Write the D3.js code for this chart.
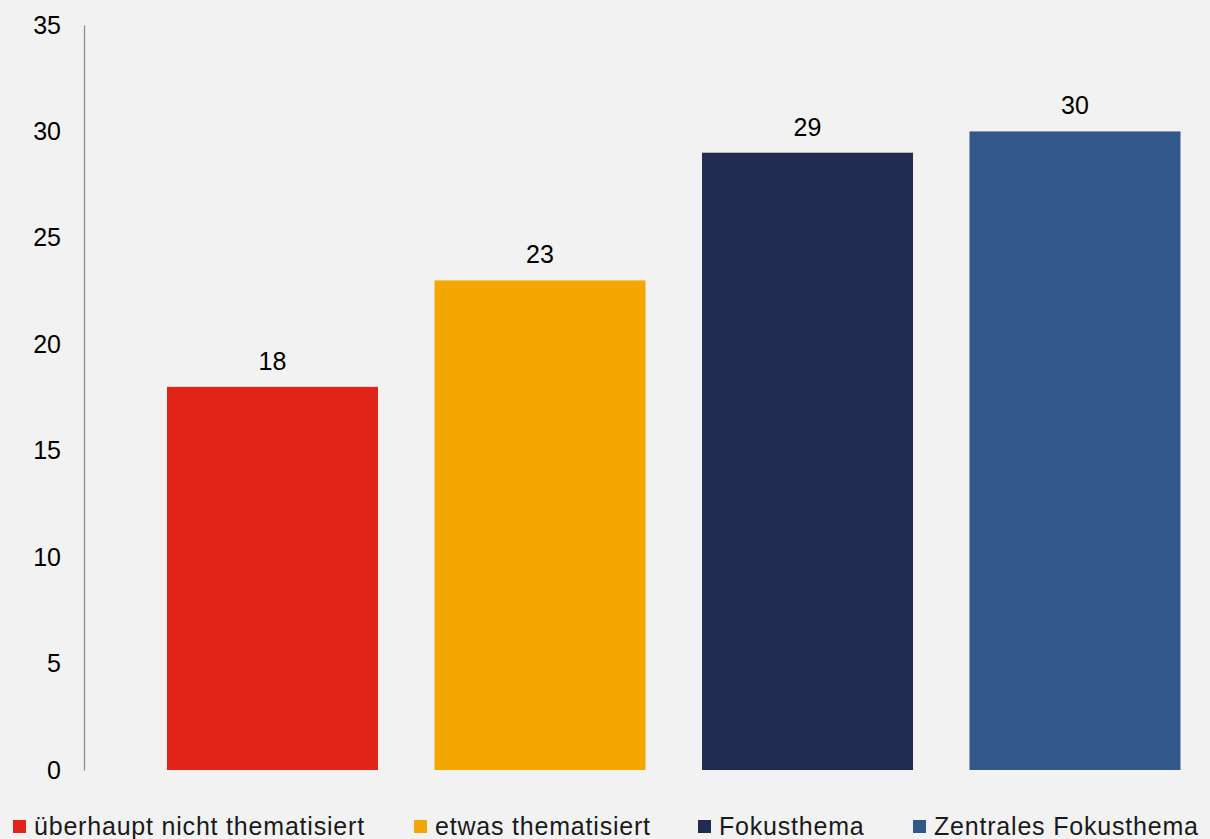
<!DOCTYPE html>
<html>
<head>
<meta charset="utf-8">
<script src="https://cdn.jsdelivr.net/npm/d3@7"></script>
<style>
  html, body { margin: 0; padding: 0; background: #f2f2f2; }
  svg { display: block; font-family: Arial, "Liberation Sans", sans-serif; }
</style>
</head>
<body>
<svg id="chart" width="1210" height="839"></svg>
<script>
// Series (one bar each) and their values
const series = ["überhaupt nicht thematisiert", "etwas thematisiert", "Fokusthema", "Zentrales Fokusthema"];
const values = [18, 23, 29, 30];
const colors = ["#e22317", "#f4a700", "#222b51", "#325789"];
const yTicks = [0, 5, 10, 15, 20, 25, 30, 35];

const svg = d3.select("#chart");
const W = 1210, H = 839;

svg.append("rect").attr("width", W).attr("height", H).attr("fill", "#f2f2f2");

const y = d3.scaleLinear().domain([0, 35]).range([770, 25]);
const x = d3.scaleBand().domain(series).range([138.75, 1208.75]).paddingInner(0.2112).paddingOuter(0.1056);

// Y axis: vertical line with labels only
const yAxis = d3.axisLeft(y).tickValues(yTicks).tickSize(0).tickPadding(23);
const gy = svg.append("g").attr("transform", "translate(84,0)").call(yAxis);
gy.select(".domain").attr("stroke", "#8c8c8c").attr("stroke-width", 1.3);
gy.selectAll("text").attr("font-size", 25).attr("fill", "#000").attr("font-family", "Arial, 'Liberation Sans', sans-serif");

// Bars
svg.append("g").selectAll("rect").data(series).join("rect")
  .attr("x", d => x(d))
  .attr("width", x.bandwidth())
  .attr("y", (d, i) => y(values[i]))
  .attr("height", (d, i) => y(0) - y(values[i]))
  .attr("fill", (d, i) => colors[i]);

// Value labels
svg.append("g").selectAll("text").data(series).join("text")
  .attr("x", d => x(d) + x.bandwidth() / 2)
  .attr("y", (d, i) => y(values[i]) - 17)
  .attr("text-anchor", "middle")
  .attr("font-size", 25)
  .attr("fill", "#000")
  .text((d, i) => values[i]);

// Legend along the bottom
const legendX = [13, 414, 698, 913];
const lg = svg.append("g").selectAll("g").data(series).join("g")
  .attr("transform", (d, i) => `translate(${legendX[i]},0)`);
lg.append("rect").attr("x", 0).attr("y", 820).attr("width", 13).attr("height", 13)
  .attr("fill", (d, i) => colors[i]);
lg.append("text").attr("x", 21).attr("y", 835)
  .attr("font-size", 25).attr("letter-spacing", 0.8).attr("fill", "#1a1a1a")
  .text(d => d);
</script>
</body>
</html>
